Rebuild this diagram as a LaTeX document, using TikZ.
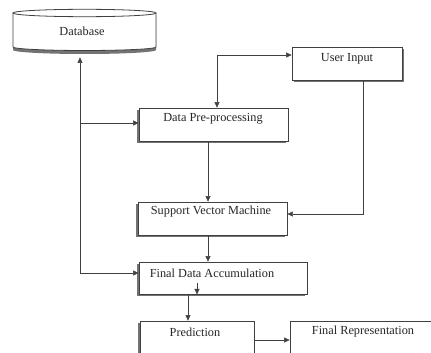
\documentclass[tikz,border=0pt]{standalone}
\usepackage{fontspec}
\setmainfont{Liberation Serif}
\usetikzlibrary{arrows.meta,calc,backgrounds}
\begin{document}
\begin{tikzpicture}[x=1pt,y=-1pt,
  line width=0.8pt,
  ln/.style={draw=black!75},
  arr/.style={ln,-{Triangle[length=5.5pt,width=5pt]}},
  darr/.style={ln,{Triangle[length=5.5pt,width=5pt]}-{Triangle[length=5.5pt,width=5pt]}},
  box/.style={draw=black!75,fill=white,rectangle,inner sep=0pt},
  shade/.style={fill=black!55},
  txt/.style={font=\fontsize{12.3}{14}\selectfont,text=black!85,inner sep=0pt}]
\useasboundingbox (0,0) rectangle (431,353);
\clip (0,0) rectangle (431,353);
% Database
\fill[shade] (13,16) -- (13,50) arc[start angle=180,end angle=0,x radius=71.5,y radius=4] -- (156,16) -- cycle;
\filldraw[ln,fill=white] (13,13) -- (13,47) arc[start angle=180,end angle=0,x radius=71.5,y radius=3.5] -- (156,13);
\filldraw[ln,fill=white] (84.5,13) ellipse[x radius=71.5,y radius=3.7];
\node[minimum width=143pt,minimum height=48pt,inner sep=0pt] (db) at (84.5,33) {};
\node[txt] (dbt) at (82,31) {Database};
% boxes
\node[box,minimum width=110pt,minimum height=33pt] (ui) at (347,63.5) {};
\node[txt] (uit) at (347,59) {User Input};
\node[box,minimum width=149pt,minimum height=33pt] (dpp) at (213.5,124.5) {};
\node[txt] (dppt) at (213,119) {Data Pre-processing};
\node[box,minimum width=149pt,minimum height=33pt] (svm) at (212.5,218.5) {};
\node[txt] (svmt) at (211,212) {Support Vector Machine};
\node[box,minimum width=168pt,minimum height=32pt] (fda) at (223,278) {};
\node[txt] (fdat) at (212,273) {Final Data Accumulation};
\node[box,minimum width=114pt,minimum height=60pt] (pred) at (197,351) {};
\node[txt] (predt) at (195,332) {Prediction};
\node[box,minimum width=160pt,minimum height=60pt] (fr) at (370,351) {};
\node[txt] (frt) at (363,332) {Final Representation};
% shadows
\begin{pgfonlayer}{background}
\fill[shade] ($(ui.north west)+(2,2)$) rectangle ($(ui.south east)+(2,2)$);
\fill[shade] ($(dpp.north west)+(-2,2)$) rectangle ($(dpp.south east)+(-2,2)$);
\fill[shade] ($(svm.north west)+(-2,2)$) rectangle ($(svm.south east)+(-2,2)$);
\fill[shade] ($(fda.north west)+(-2,2)$) rectangle ($(fda.south east)+(-2,2)$);
\fill[shade] ($(pred.north west)+(-2,2)$) rectangle ($(pred.south east)+(-2,2)$);
\end{pgfonlayer}
% coordinates
\coordinate (c1) at (217,55);
\coordinate (c2) at (363,214);
\coordinate (c3) at (208,0);
\coordinate (c4) at (80,273);
\coordinate (c5) at (80,123);
\coordinate (c6) at (197,283);
\coordinate (c7) at (188,0);
\coordinate (c8) at (0,340);
% connectors
\draw[darr] (dpp.north -| c1) -- (c1) -- (c1 -| ui.west);
\draw[arr] (ui.south -| c2) -- (c2) -- (c2 -| svm.east);
\draw[arr] (dpp.south -| c3) -- (svm.north -| c3);
\draw[arr] (svm.south -| c3) -- (fda.north -| c3);
\draw[arr] (c4) -- (c4 |- db.south);
\draw[arr] (c5) -- (c5 -| dpp.west);
\draw[arr] (c4) -- (c4 -| fda.west);
\draw[arr] (c6) -- (c6 |- fda.south);
\draw[arr] (fda.south -| c7) -- (pred.north -| c7);
\draw[arr] (c8 -| pred.east) -- (c8 -| fr.west);
\end{tikzpicture}
\end{document}
